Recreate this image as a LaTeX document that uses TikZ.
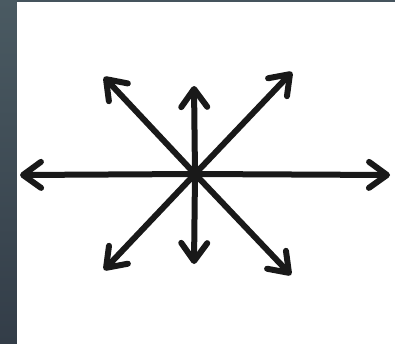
\documentclass[tikz,border=0pt]{standalone}
\usepackage{xcolor}
\usepackage{tikz}
\usetikzlibrary{arrows.meta}

\definecolor{slatetop}{HTML}{4A5A62}
\definecolor{slatebot}{HTML}{333D48}

\begin{document}
\begin{tikzpicture}[
  x=1pt, y=-1pt,
  >={Straight Barb[length=18pt, width=26pt, round]},
  arr/.style={->, line width=6pt, line cap=round, black!90},
]
% Frame: slate strip on the left and top, white panel
\useasboundingbox (0,0) rectangle (395,343);
\shade[top color=slatetop, bottom color=slatebot] (0,0) rectangle (17,343);
\fill[slatetop!80!slatebot] (17,0) rectangle (400,2);
\fill[white] (17,2) rectangle (400,350);
% Centre and arrow tips
\coordinate (c)  at (195,174);
\coordinate (w)  at (20,175);
\coordinate (e)  at (390,175);
\coordinate (n)  at (194,86);
\coordinate (s)  at (194,264);
\coordinate (nw) at (104,77);
\coordinate (ne) at (292,72);
\coordinate (sw) at (104,270);
\coordinate (se) at (291,275);
% Arrows
\foreach \t in {w,e,n,s,nw,ne,sw,se}
  \draw[arr] (c) -- (\t);
\end{tikzpicture}
\end{document}
